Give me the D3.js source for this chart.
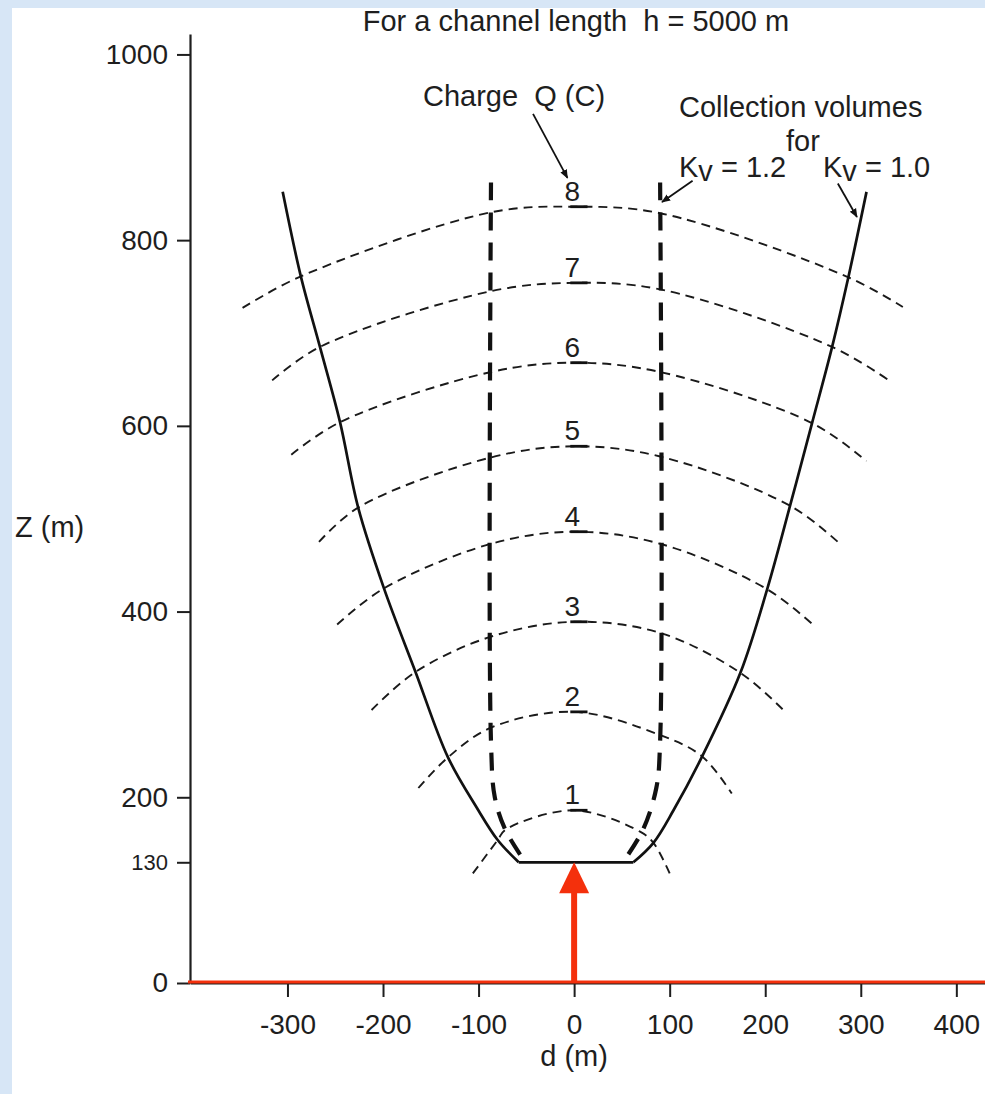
<!DOCTYPE html>
<html>
<head>
<meta charset="utf-8">
<script src="https://cdn.jsdelivr.net/npm/d3@7"></script>
<style>
  body { margin: 0; background: #d7e6f6; }
  text { font-family: "Liberation Sans", Arial, sans-serif; fill: #1e1e1e; white-space: pre; }
</style>
</head>
<body>
<div id="chart-area"></div>
<script>
/*
*    collection volumes chart
*/

var width = 985;
var height = 1094;

// Data (d in m, z in m)
var yTicks = [0, 130, 200, 400, 600, 800, 1000];
var xTicks = [-300, -200, -100, 0, 100, 200, 300, 400];
var chargeQ = [1, 2, 3, 4, 5, 6, 7, 8];

var q1 = [[-106,118],[-80,154],[-72,165],[0,186],[69,163],[83,151],[100,118]];
var q2 = [[-163,210],[-132,243],[-87,275],[0,292],[90,267],[134,244],[165,204]];
var q3 = [[-212,294],[-166,335],[-87,373],[0,389],[90,377],[174,334],[219,294]];
var q4 = [[-248,386],[-199,425],[-87,473],[0,486],[90,473],[202,424],[252,384]];
var q5 = [[-267,475],[-226,512],[-87,566],[0,578],[90,567],[226,514],[276,475]];
var q6 = [[-296,569],[-245,604],[-87,658],[0,668],[90,658],[249,603],[306,562]];
var q7 = [[-316,649],[-266,685],[-87,745],[0,754],[90,747],[270,685],[331,648]];
var q8 = [[-347,727],[-286,761],[-87,830],[0,836],[90,829],[287,760],[344,728]];
var chargeArcs = [q1, q2, q3, q4, q5, q6, q7, q8];

// Kv = 1.0 (solid)
var kv10Left = [[-305,852],[-286,761],[-266,685],[-245,604],[-226,512],[-199,425],[-166,335],[-132,243],[-102,189],[-80,154],[-58,130]];
var kv10Base = [[-58,130],[62,130]];
var kv10Right = [[62,130],[83,151],[104,186],[134,244],[174,334],[202,424],[226,514],[249,603],[270,685],[287,760],[306,852]];

// Kv = 1.2 (heavy dashed)
var kv12Left = [[-87,862],[-87,260],[-83,200],[-72,165],[-51,130]];
var kv12Right = [[90,862],[90,260],[86,210],[72,165],[51,130]];

var svg = d3.select("#chart-area").append("svg").attr("width", width).attr("height", height);

svg.append("rect").attr("x", 12).attr("y", 8).attr("width", width - 12).attr("height", height - 8).attr("fill", "#ffffff");

// Scales
var x = d3.scaleLinear().domain([-402, 430]).range([190, 985]);
var y = d3.scaleLinear().domain([0, 1022]).range([983, 34]);

var line = d3.line().x(function(d) { return x(d[0]); }).y(function(d) { return y(d[1]); }).curve(d3.curveCatmullRom.alpha(0.5));

// Axis
var yAxisCall = d3.axisLeft(y).tickValues(yTicks).tickSize(13).tickSizeOuter(0).tickPadding(9).tickFormat(function(d) { return String(d); });
var yAxisGroup = svg.append("g").attr("class", "y axis").attr("transform", "translate(" + x(-402) + ",0)").call(yAxisCall);

var xAxisCall = d3.axisBottom(x).tickValues(xTicks).tickSize(14).tickSizeOuter(0).tickPadding(17).tickFormat(function(d) { return String(d); });
var xAxisGroup = svg.append("g").attr("class", "x axis").attr("transform", "translate(0," + y(0) + ")").call(xAxisCall);

svg.selectAll(".axis .domain").attr("stroke", "#1e1e1e").attr("stroke-width", 2.2);
svg.selectAll(".axis .tick line").attr("stroke", "#1e1e1e").attr("stroke-width", 2);
svg.selectAll(".axis text").style("font-family", "Liberation Sans, Arial, sans-serif").attr("fill", "#1e1e1e").style("font-size", "28px");
yAxisGroup.selectAll("text").filter(function(d) { return d === 130; }).style("font-size", "22px");

// Charge arcs
svg.selectAll(".arc").data(chargeArcs).enter().append("path").attr("class", "arc")
  .attr("d", line).attr("fill", "none").attr("stroke", "#1a1a1a").attr("stroke-width", 1.9).attr("stroke-dasharray", "9,6");

svg.selectAll(".apex").data(chargeArcs).enter().append("line").attr("class", "apex")
  .attr("x1", x(-4)).attr("x2", x(14))
  .attr("y1", function(d) { return y(d[3][1]); }).attr("y2", function(d) { return y(d[3][1]); })
  .attr("stroke", "#111").attr("stroke-width", 2.8);

svg.selectAll(".qlabel").data(chargeArcs).enter().append("text").attr("class", "qlabel")
  .attr("x", x(-2)).attr("y", function(d) { return y(d[3][1]) - 6; })
  .attr("text-anchor", "middle").style("font-size", "28px")
  .text(function(d, i) { return chargeQ[i]; });

// Kv = 1.2
[kv12Left, kv12Right].forEach(function(pts) {
  svg.append("path").attr("d", line(pts)).attr("fill", "none").attr("stroke", "#111")
    .attr("stroke-width", 4.2).attr("stroke-dasharray", "18,12");
});

// Kv = 1.0
[kv10Left, kv10Base, kv10Right].forEach(function(pts) {
  svg.append("path").attr("d", line(pts)).attr("fill", "none").attr("stroke", "#111").attr("stroke-width", 2.7);
});

// Red ground line and channel arrow
var red = "#f4300c";
svg.append("line").attr("x1", 188).attr("x2", width).attr("y1", y(0) - 1).attr("y2", y(0) - 1).attr("stroke", red).attr("stroke-width", 3);
svg.append("line").attr("x1", x(0)).attr("x2", x(0)).attr("y1", y(0)).attr("y2", y(130) + 26).attr("stroke", red).attr("stroke-width", 6);
svg.append("path").attr("fill", red)
  .attr("d", "M" + x(0) + "," + y(130) + "L" + (x(0) + 15) + "," + (y(130) + 31) + "L" + (x(0) - 15) + "," + (y(130) + 31) + "Z");

// Annotations
var defs = svg.append("defs");
defs.append("marker").attr("id", "head").attr("viewBox", "0 0 10 10").attr("refX", 9).attr("refY", 5)
  .attr("markerWidth", 9).attr("markerHeight", 9).attr("markerUnits", "userSpaceOnUse").attr("orient", "auto")
  .append("path").attr("d", "M0,1L10,5L0,9Z").attr("fill", "#111");

var pointers = [
  [[-43, 936], [-7, 867]],
  [[124, 864], [92, 841]],
  [[276, 861], [296, 825]]
];
pointers.forEach(function(p) {
  svg.append("line").attr("x1", x(p[0][0])).attr("y1", y(p[0][1])).attr("x2", x(p[1][0])).attr("y2", y(p[1][1]))
    .attr("stroke", "#111").attr("stroke-width", 1.8).attr("marker-end", "url(#head)");
});

svg.append("text").attr("x", 576).attr("y", 31).attr("text-anchor", "middle").style("font-size", "29px").text("For a channel length  h = 5000 m");
svg.append("text").attr("x", 423).attr("y", 106).style("font-size", "29px").text("Charge  Q (C)");
svg.append("text").attr("x", 679).attr("y", 117).style("font-size", "29px").text("Collection volumes");
svg.append("text").attr("x", 786).attr("y", 151).style("font-size", "29px").text("for");

[[679, "1.2"], [823, "1.0"]].forEach(function(k) {
  var t = svg.append("text").attr("x", k[0]).attr("y", 177).style("font-size", "29px");
  t.append("tspan").text("K");
  t.append("tspan").attr("dy", 4).text("v");
  t.append("tspan").attr("dy", -4).text(" = " + k[1]);
});

svg.append("text").attr("x", 15).attr("y", 537).style("font-size", "29px").text("Z (m)");
svg.append("text").attr("x", x(0)).attr("y", 1066).attr("text-anchor", "middle").style("font-size", "29px").text("d (m)");
</script>
</body>
</html>
